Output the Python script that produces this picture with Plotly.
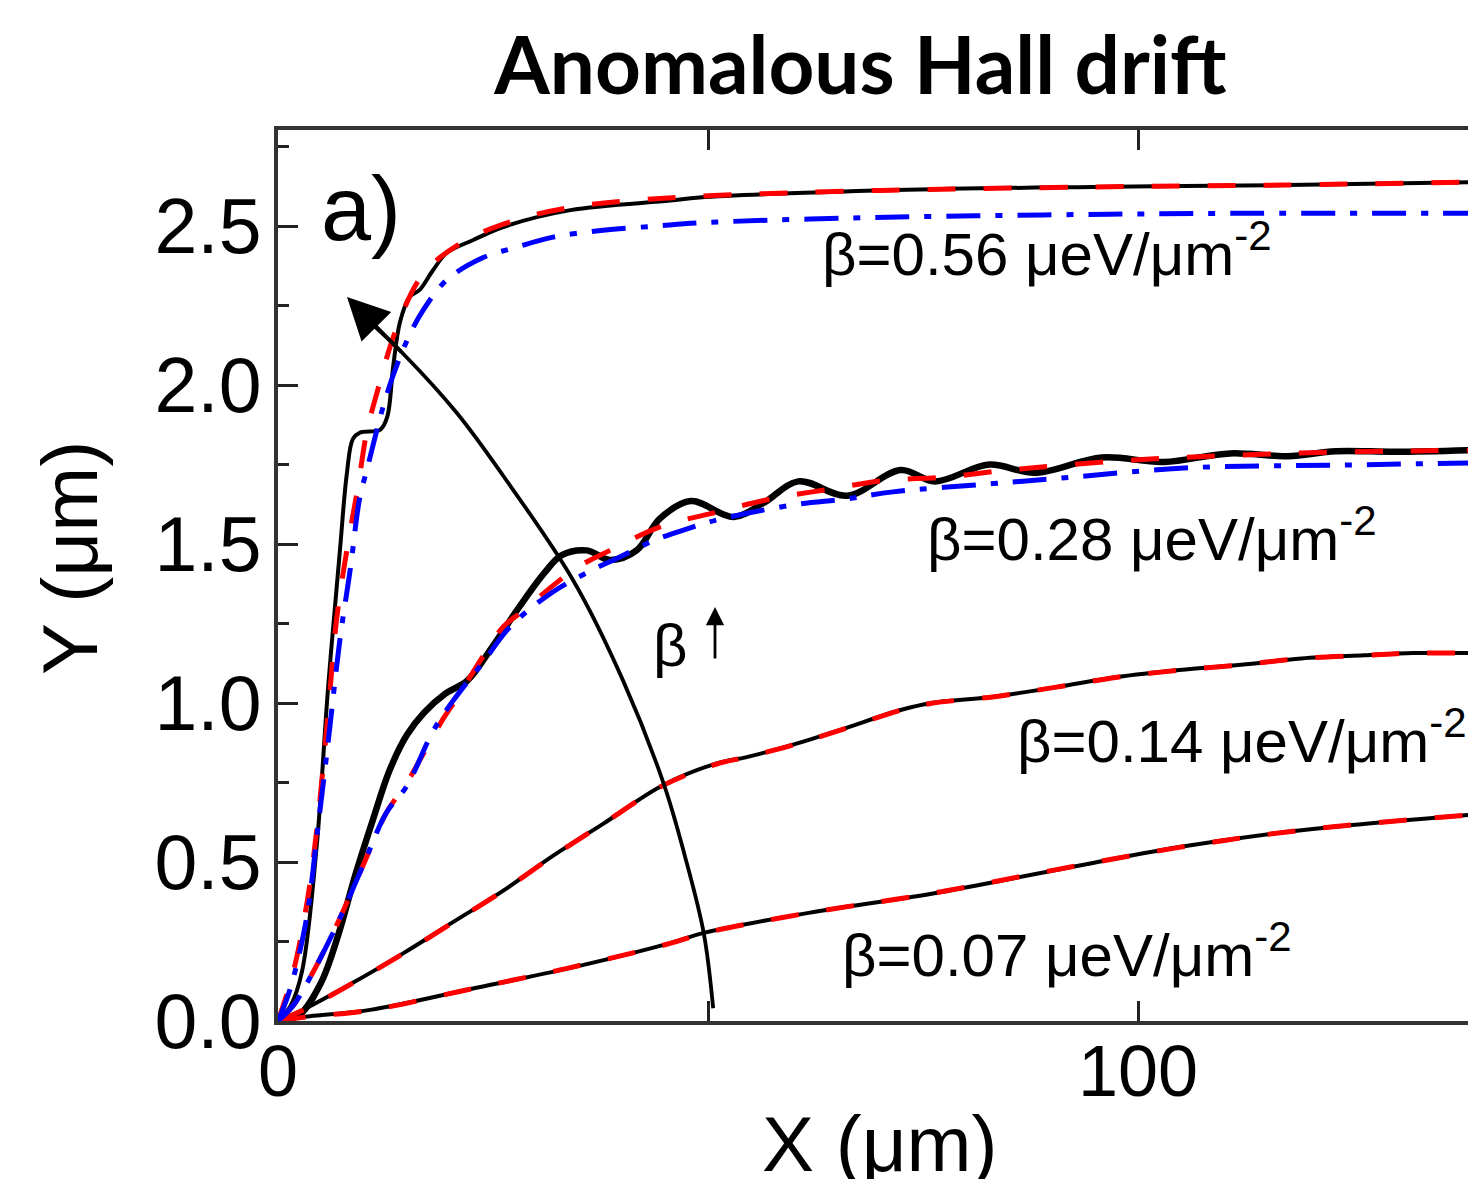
import plotly.graph_objects as go

# ---------------- data ----------------
# beta = 0.07
x007 = [0, 3, 10.7, 22.3, 34, 45.6, 49.5, 61.7, 76, 90.5, 104.8, 119, 138.4]
y007_num = [0, 0.013, 0.035, 0.10, 0.167, 0.245, 0.277, 0.34, 0.40, 0.475, 0.547, 0.60, 0.648]
y007_red = [0, 0.012, 0.034, 0.10, 0.168, 0.244, 0.276, 0.34, 0.401, 0.476, 0.546, 0.60, 0.648]

# beta = 0.14
x014 = [0, 2.9, 8.7, 14.5, 20.3, 26.2, 32, 37.8, 44.8, 51, 54.5, 60, 65.3, 72.4, 76,
        83.3, 90.5, 97.6, 104.8, 112, 119, 126.3, 132, 138.4]
y014_num = [0, 0.035, 0.12, 0.212, 0.31, 0.41, 0.52, 0.62, 0.742, 0.81, 0.83, 0.87, 0.915,
            0.978, 1.0, 1.02, 1.05, 1.082, 1.104, 1.12, 1.14, 1.15, 1.157, 1.157]
y014_red = [0, 0.034, 0.119, 0.211, 0.309, 0.41, 0.519, 0.62, 0.741, 0.808, 0.83, 0.869, 0.914,
            0.977, 0.999, 1.02, 1.05, 1.081, 1.103, 1.12, 1.14, 1.15, 1.157, 1.157]

# beta = 0.28
x028_num = [0, 2.5, 5, 7, 9, 11, 13, 15, 17, 19.5, 22, 25, 28, 31, 33, 35.9, 38.6, 41.7,
            44.4, 48, 53, 56.5, 60.5, 66.2, 72.4, 76.4, 82.7, 88, 95.8, 103, 110.7, 117.4,
            123, 130, 138.4]
y028_num = [0, 0.02, 0.12, 0.27, 0.46, 0.63, 0.79, 0.9, 0.97, 1.03, 1.07, 1.18, 1.30, 1.41,
            1.465, 1.48, 1.45, 1.48, 1.58, 1.635, 1.585, 1.63, 1.697, 1.652, 1.733, 1.697,
            1.75, 1.724, 1.772, 1.758, 1.785, 1.776, 1.792, 1.79, 1.795]
x028_red = [0, 1.8, 3.7, 6.8, 9.9, 12.6, 15, 17.3, 19.2, 20.8, 23.9, 26.2, 28.5, 32, 35,
            38.6, 44.5, 51, 57.5, 64, 70.5, 77.4, 84, 90, 100, 110, 120, 130, 138.4]
y028_red = [0, 0.05, 0.135, 0.30, 0.49, 0.655, 0.75, 0.86, 0.95, 1.015, 1.15, 1.24, 1.29,
            1.37, 1.43, 1.48, 1.555, 1.60, 1.643, 1.672, 1.70, 1.71, 1.73, 1.745, 1.765,
            1.778, 1.787, 1.792, 1.795]
x028_blue = [0, 1.8, 3.7, 6.8, 9.9, 12.6, 15, 18, 20.3, 23.9, 27, 32, 36.3, 39.8, 43.6,
             47.5, 51.4, 59.9, 66.2, 71.5, 83.1, 90.9, 106, 123, 138.4]
y028_blue = [0, 0.05, 0.135, 0.30, 0.49, 0.655, 0.74, 0.91, 1.005, 1.13, 1.24, 1.35, 1.415,
             1.46, 1.51, 1.547, 1.578, 1.623, 1.642, 1.664, 1.69, 1.707, 1.74, 1.748, 1.755]

# beta = 0.56
x056_num = [0, 1.5, 2.8, 4.5, 5.8, 7.2, 8.0, 8.7, 9.5, 11.9, 12.7, 13.4, 14.2, 15.3, 16.5,
            18, 19.6, 22.7, 26.2, 34, 45.6, 49, 71.9, 94.7, 117.4, 138.4]
y056_num = [0, 0.05, 0.157, 0.55, 1.04, 1.48, 1.72, 1.83, 1.85, 1.86, 1.90, 2.06, 2.20,
            2.277, 2.30, 2.36, 2.415, 2.456, 2.497, 2.55, 2.58, 2.59, 2.613, 2.623, 2.629, 2.638]
x056_red = [0, 1.8, 3.4, 4.5, 5.7, 6.8, 8.0, 9.3, 10.3, 11.5, 13.8, 16.9, 21.5, 27.8, 34.3,
            40.9, 50, 70, 95, 117, 138.4]
y056_red = [0, 0.157, 0.377, 0.60, 0.93, 1.26, 1.48, 1.68, 1.85, 1.975, 2.18, 2.35, 2.45,
            2.52, 2.56, 2.58, 2.595, 2.612, 2.623, 2.629, 2.638]
x056_blue = [0, 1.4, 3.3, 4.6, 5.8, 7.2, 8.4, 9.5, 10.3, 12.7, 15, 16.9, 19.6, 23.8, 27.8,
             32, 37.8, 44, 49, 66.2, 89, 111.7, 138.4]
y056_blue = [0, 0.10, 0.32, 0.60, 0.87, 1.20, 1.42, 1.645, 1.73, 1.975, 2.14, 2.236, 2.33,
             2.40, 2.434, 2.465, 2.487, 2.50, 2.51, 2.525, 2.535, 2.54, 2.54]

# curved "beta increases" arrow
arc_x = [50.6, 49.5, 47.3, 44.9, 40.1, 34.3, 26.2, 20.8, 14.5, 11.0]
arc_y = [0.04, 0.277, 0.52, 0.742, 1.072, 1.387, 1.714, 1.912, 2.10, 2.19]

beta_labels = ["β=0.56 μeV/μm<sup>-2</sup>", "β=0.28 μeV/μm<sup>-2</sup>",
               "β=0.14 μeV/μm<sup>-2</sup>", "β=0.07 μeV/μm<sup>-2</sup>"]

x_tickvals = [0, 50, 100]
x_ticktext = ["0", "", "100"]
y_tickvals = [0, 0.5, 1.0, 1.5, 2.0, 2.5]
y_ticktext = ["0.0", "0.5", "1.0", "1.5", "2.0", "2.5"]

# ---------------- geometry ----------------
W, H = 1468, 1179
L, R, T, B = 278, 0, 130, 158
X_MAX = 138.37
Y_MAX = 2.802
px_per_x = (W - L - R) / X_MAX
px_per_y = (H - T - B) / Y_MAX


def dx(px):
    return (px - L) / px_per_x


def dy(py):
    return (H - B - py) / px_per_y


def paper_x(px):
    return (px - L) / (W - L - R)


def paper_y(py):
    return (H - B - py) / (H - T - B)


FONT = "Liberation Sans, Arial, sans-serif"
BLACK, RED, BLUE = "#000000", "#ff0000", "#0000ff"
RED_DASH = "28px,28px"
BLUE_DASH = "34px,15px,7px,15px"

fig = go.Figure()


def add(x, y, color, width, dash="solid"):
    fig.add_trace(go.Scatter(x=x, y=y, mode="lines", line_shape="spline",
                             line=dict(color=color, width=width, dash=dash),
                             hoverinfo="skip", showlegend=False))


# black numerical curves
add(x007, y007_num, BLACK, 4)
add(x014, y014_num, BLACK, 4)
add(x028_num, y028_num, BLACK, 6.5)
add(x056_num, y056_num, BLACK, 4)
# red dashed
add(x007, y007_red, RED, 5, RED_DASH)
add(x014, y014_red, RED, 5, RED_DASH)
add(x028_red, y028_red, RED, 5, RED_DASH)
add(x056_red, y056_red, RED, 5, RED_DASH)
# blue dash-dot
add(x028_blue, y028_blue, BLUE, 5, BLUE_DASH)
add(x056_blue, y056_blue, BLUE, 5, BLUE_DASH)
# arc
add(arc_x, arc_y, BLACK, 3.8)

annotations = []
# arrow head of the arc
annotations.append(dict(x=dx(347), y=dy(297), ax=arc_x[-2], ay=arc_y[-2],
                        xref="x", yref="y", axref="x", ayref="y", text="",
                        showarrow=True, arrowhead=2, arrowsize=2.2, arrowwidth=3.8,
                        arrowcolor=BLACK))
# small beta arrow
annotations.append(dict(x=dx(715), y=dy(607), ax=dx(715), ay=dy(660),
                        xref="x", yref="y", axref="x", ayref="y", text="",
                        showarrow=True, arrowhead=2, arrowsize=1.3, arrowwidth=2.8,
                        arrowcolor=BLACK))
annotations.append(dict(x=dx(670), y=dy(645), xref="x", yref="y", text="β",
                        showarrow=False, font=dict(family=FONT, size=60, color=BLACK)))
# beta labels
label_pos = [(820, 250), (925, 535), (1015, 737), (840, 951)]
for txt, (px, py) in zip(beta_labels, label_pos):
    annotations.append(dict(x=dx(px), y=dy(py), xref="x", yref="y", text=txt,
                            xanchor="left", yanchor="middle", showarrow=False,
                            font=dict(family=FONT, size=60, color=BLACK)))
# panel label
annotations.append(dict(x=dx(361), y=dy(209), xref="x", yref="y", text="a)",
                        showarrow=False, font=dict(family=FONT, size=90, color=BLACK)))
# axis titles (paper coordinates, outside the plot area)
annotations.append(dict(x=paper_x(70), y=paper_y(558), xref="paper", yref="paper",
                        text="Y (μm)", textangle=-90, showarrow=False,
                        xanchor="center", yanchor="middle",
                        font=dict(family=FONT, size=78, color=BLACK)))
annotations.append(dict(x=paper_x(880), y=paper_y(1098), xref="paper", yref="paper",
                        text="X (μm)", xanchor="center", yanchor="top", showarrow=False,
                        font=dict(family=FONT, size=78, color=BLACK)))

fig.update_layout(
    width=W, height=H,
    margin=dict(l=L, r=R, t=T, b=B, pad=0, autoexpand=False),
    paper_bgcolor="white", plot_bgcolor="white",
    title=dict(text="<b>Anomalous Hall drift</b>", x=860.5 / W, xref="container",
               xanchor="center", y=1 - 66 / H, yref="container", yanchor="middle",
               font=dict(family="Lato, Open Sans, sans-serif", size=80, color=BLACK)),
    annotations=annotations,
    showlegend=False,
)
fig.update_xaxes(range=[0, X_MAX], tickmode="array", tickvals=x_tickvals, ticktext=x_ticktext,
                 ticks="inside", ticklen=20, tickwidth=3, tickcolor="#222",
                 showline=True, linecolor="#333", linewidth=4, mirror="ticks",
                 showgrid=False, zeroline=False, ticklabelstandoff=-15,
                 tickfont=dict(family=FONT, size=72, color=BLACK))
fig.update_yaxes(range=[0, Y_MAX], tickmode="array", tickvals=y_tickvals, ticktext=y_ticktext,
                 ticks="inside", ticklen=20, tickwidth=3, tickcolor="#222",
                 minor=dict(dtick=0.25, ticks="inside", ticklen=11, tickwidth=3, tickcolor="#222",
                            showgrid=False),
                 showline=True, linecolor="#333", linewidth=4, mirror=False,
                 showgrid=False, zeroline=False, ticklabelstandoff=-3,
                 tickfont=dict(family=FONT, size=77, color=BLACK))

fig.write_html("out.html", config={"displayModeBar": False, "responsive": False},
               post_script="document.body.style.margin='0px';document.body.style.overflow='hidden';")
